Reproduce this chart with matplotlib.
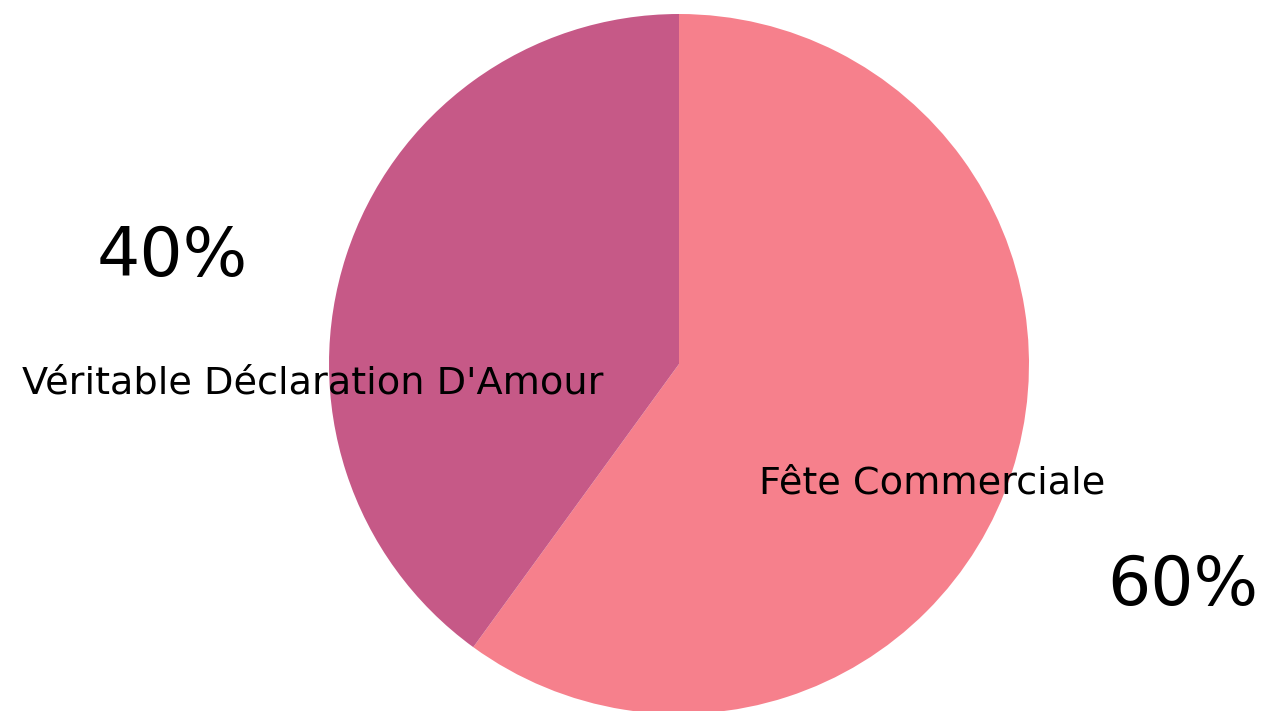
import matplotlib.pyplot as plt

# data
labels = ["Fête Commerciale", "Véritable Déclaration D'Amour"]
values = [60, 40]
colors = ["#F6808C", "#C65987"]
pct_text = ["60%", "40%"]

W, H = 1264, 711
fig = plt.figure(figsize=(W / 100, H / 100), dpi=100)
ax = fig.add_axes([0, 0, 1, 1])

# pie centre / radius in pixel units (y measured up from bottom)
cx, cy, r = 679, H - 364, 350
ax.pie(values, colors=colors, startangle=90, counterclock=False,
       center=(cx, cy), radius=r, wedgeprops=dict(linewidth=0))
ax.set_xlim(0, W)
ax.set_ylim(0, H)
ax.set_aspect('equal')
ax.axis('off')

font = 'DejaVu Sans'
# slice labels
ax.text(932, H - 484, labels[0], fontsize=27.5, family=font, ha='center', va='center', color='black')
ax.text(313, H - 384, labels[1], fontsize=27.5, family=font, ha='center', va='center', color='black')
# percentages
ax.text(1183, H - 586, pct_text[0], fontsize=49, family=font, ha='center', va='center', color='black')
ax.text(172, H - 257, pct_text[1], fontsize=49, family=font, ha='center', va='center', color='black')

plt.savefig('out.png', dpi=100)
